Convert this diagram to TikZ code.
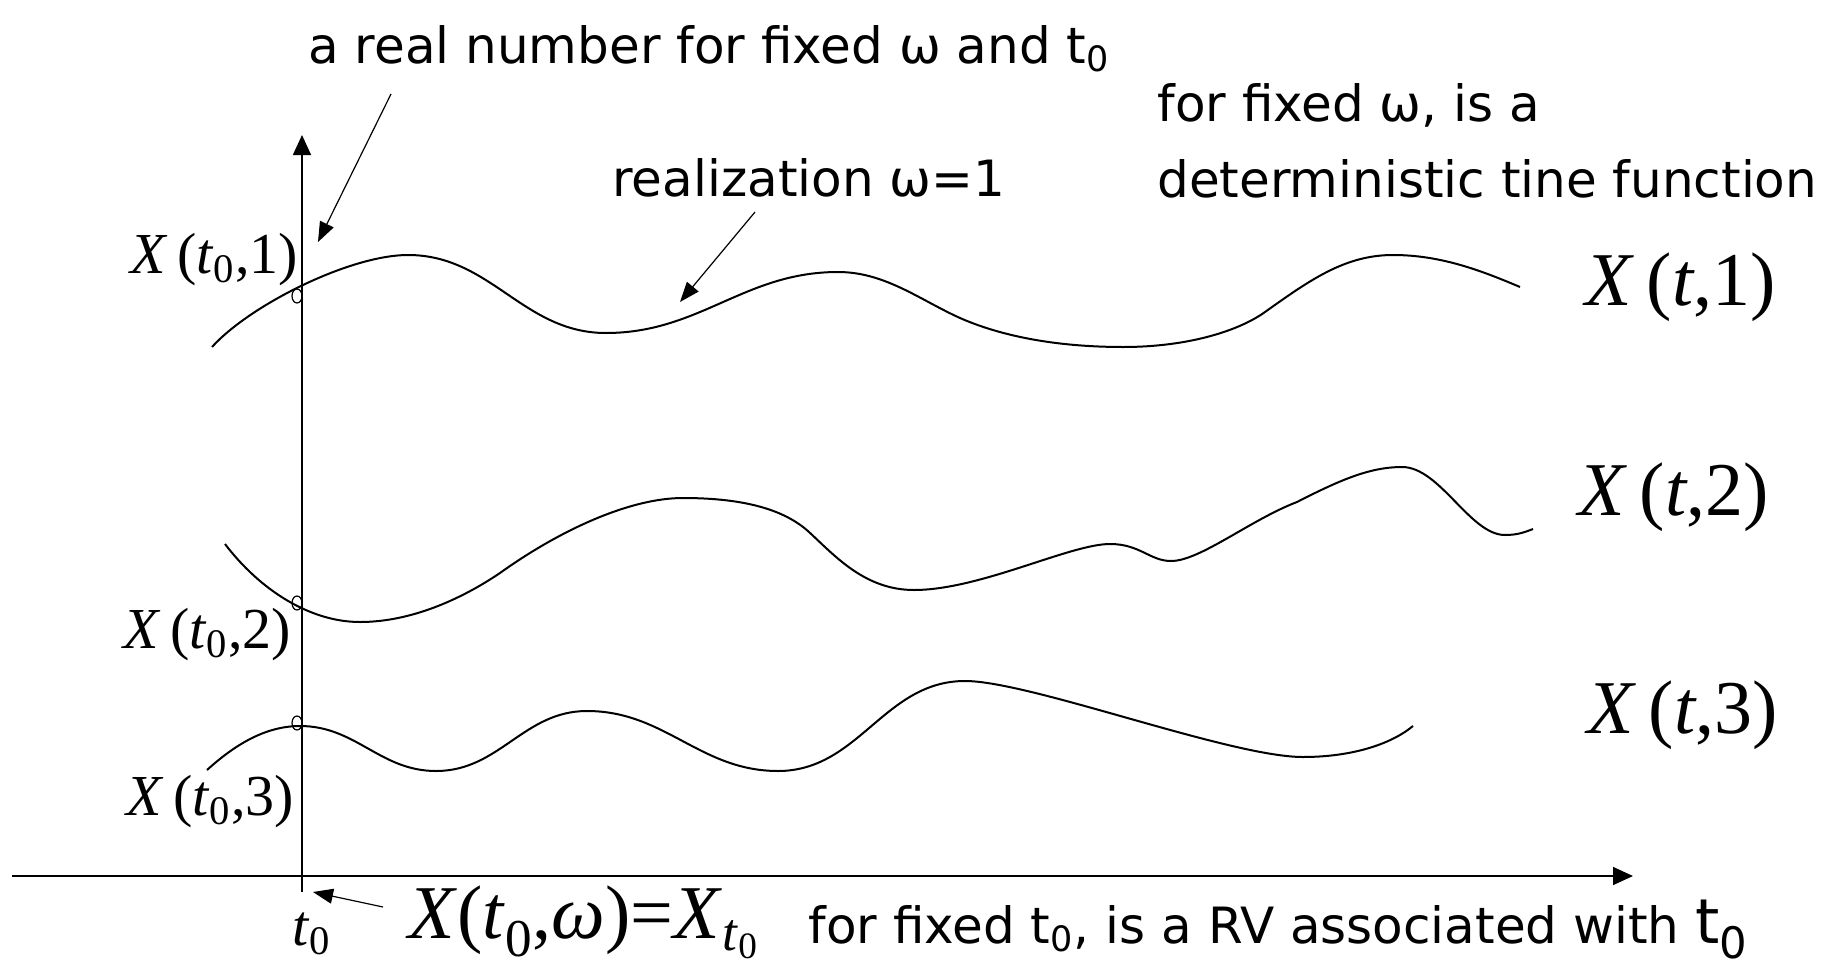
\documentclass[tikz,border=0pt]{standalone}
\usepackage{fontspec}
\usepackage{tikz}
\usetikzlibrary{positioning, arrows.meta}
\setmainfont{DejaVu Sans}
\newfontfamily\tms{Liberation Serif}
\tikzset{
	>={Triangle[length=10pt, width=9pt]},
	% testo delle note
	nota/.style={inner sep=0pt, anchor=base west, font=\fontsize{25}{30}\selectfont},
	% etichette X(t0,k) sull'asse
	etic/.style={inner sep=0pt, anchor=base west, font=\tms\fontsize{29}{34}\selectfont},
	% etichette grandi X(t,k)
	eticg/.style={inner sep=0pt, anchor=base west, font=\tms\fontsize{38}{44}\selectfont},
	% realizzazioni
	curva/.style={line width=1pt},
	% assi
	asse/.style={->, line width=0.75pt},
	% frecce delle note
	freccia/.style={-{Triangle[length=10pt, width=7.5pt]}, line width=0.6pt},
	% punto sull'asse
	punto/.style={line width=0.6pt},
}
\newcommand{\zero}{\textsubscript{0}}
\begin{document}
\begin{tikzpicture}[x=0.5pt, y=-0.5pt]
    \useasboundingbox (0,0) rectangle (1842,969);

    % ---------------- assi ----------------
    \coordinate (origine) at (302,892);
    \coordinate (asseY) at (302,135);
    \coordinate (asseXs) at (12,876);
    \coordinate (asseXd) at (1633,876);
    \draw[asse] (origine) -- (asseY);
    \draw[asse] (asseXs) -- (asseXd);

    % ---------------- realizzazioni ----------------
    % omega = 1
    \draw[curva] (212,347) .. controls (250,305) and (350,255) .. (408,255)
        to[out=0, in=180] (606,333) to[out=0, in=180] (838,272)
        .. controls (885,272) and (920,300) .. (960,318)
        .. controls (1010,340) and (1070,347) .. (1123,347)
        .. controls (1190,347) and (1240,330) .. (1265,312)
        .. controls (1310,280) and (1345,255) .. (1393,255)
        .. controls (1440,255) and (1480,270) .. (1520,287);
    % omega = 2
    \draw[curva] (225,544) .. controls (260,590) and (310,622) .. (360,622)
        .. controls (410,622) and (460,600) .. (500,573)
        .. controls (560,530) and (630,498) .. (683,498)
        .. controls (745,498) and (785,510) .. (809,532)
        .. controls (835,556) and (865,590) .. (914,590)
        .. controls (980,590) and (1070,544) .. (1110,544)
        .. controls (1140,544) and (1150,561) .. (1171,561)
        .. controls (1200,561) and (1250,520) .. (1297,502)
        .. controls (1340,480) and (1370,467) .. (1402,467)
        .. controls (1440,467) and (1470,535) .. (1505,535)
        .. controls (1518,535) and (1525,532) .. (1533,529);
    % omega = 3
    \draw[curva] (207,770) .. controls (240,740) and (270,726) .. (300,726)
        to[out=0, in=180] (436,771) to[out=0, in=180] (587,711)
        to[out=0, in=180] (778,771) to[out=0, in=180] (965,681)
        .. controls (1030,681) and (1230,757) .. (1303,757)
        .. controls (1350,757) and (1390,745) .. (1413,726);

    % punti per t0 fissato
    \draw[punto] (297,296) ellipse[x radius=5, y radius=7];
    \draw[punto] (297,603) ellipse[x radius=5, y radius=7];
    \draw[punto] (297,723) ellipse[x radius=5, y radius=7];

    % ---------------- etichette ----------------
    \node[etic] (x01) at (130,273) {\textit{X}\,(\textit{t}\zero,1)};
    \node[etic] (x02) at (123,648) {\textit{X}\,(\textit{t}\zero,2)};
    \node[etic] (x03) at (126,815) {\textit{X}\,(\textit{t}\zero,3)};
    \node[eticg] (xt1) at (1585,305) {\textit{X}\,(\textit{t},1)};
    \node[eticg] (xt2) at (1578,515) {\textit{X}\,(\textit{t},2)};
    \node[eticg] (xt3) at (1587,733) {\textit{X}\,(\textit{t},3)};
    \node[etic] (t0) at (292,945) {\textit{t}\zero};
    \node[eticg] (xtw) at (408,938) {\textit{X}(\textit{t}\zero,\textit{ω})=\textit{X}\textsubscript{\textit{t}\zero}};

    % ---------------- note ----------------
    \node[nota] (reale) at (308,63) {a real number for fixed ω and t\zero};
    \node[nota] (fisso1) at (1157,121) {for fixed ω, is a};
    \node[nota] (fisso2) at (1157,197) {deterministic tine function};
    \node[nota] (realiz) at (612,196) {realization ω=1};
    \node[nota] (rv) at (808,943) {for fixed t\zero, is a RV associated with {\fontsize{31}{34}\selectfont t\zero}};

    % ---------------- frecce ----------------
    \coordinate (a1) at (391,94);
    \coordinate (b1) at (318,242);
    \draw[freccia] (a1) -- (b1);
    \coordinate (a2) at (755,212);
    \coordinate (b2) at (680,302);
    \draw[freccia] (a2) -- (b2);
    \coordinate (a3) at (383,907);
    \coordinate (b3) at (313,892);
    \draw[freccia] (a3) -- (b3);
\end{tikzpicture}
\end{document}
